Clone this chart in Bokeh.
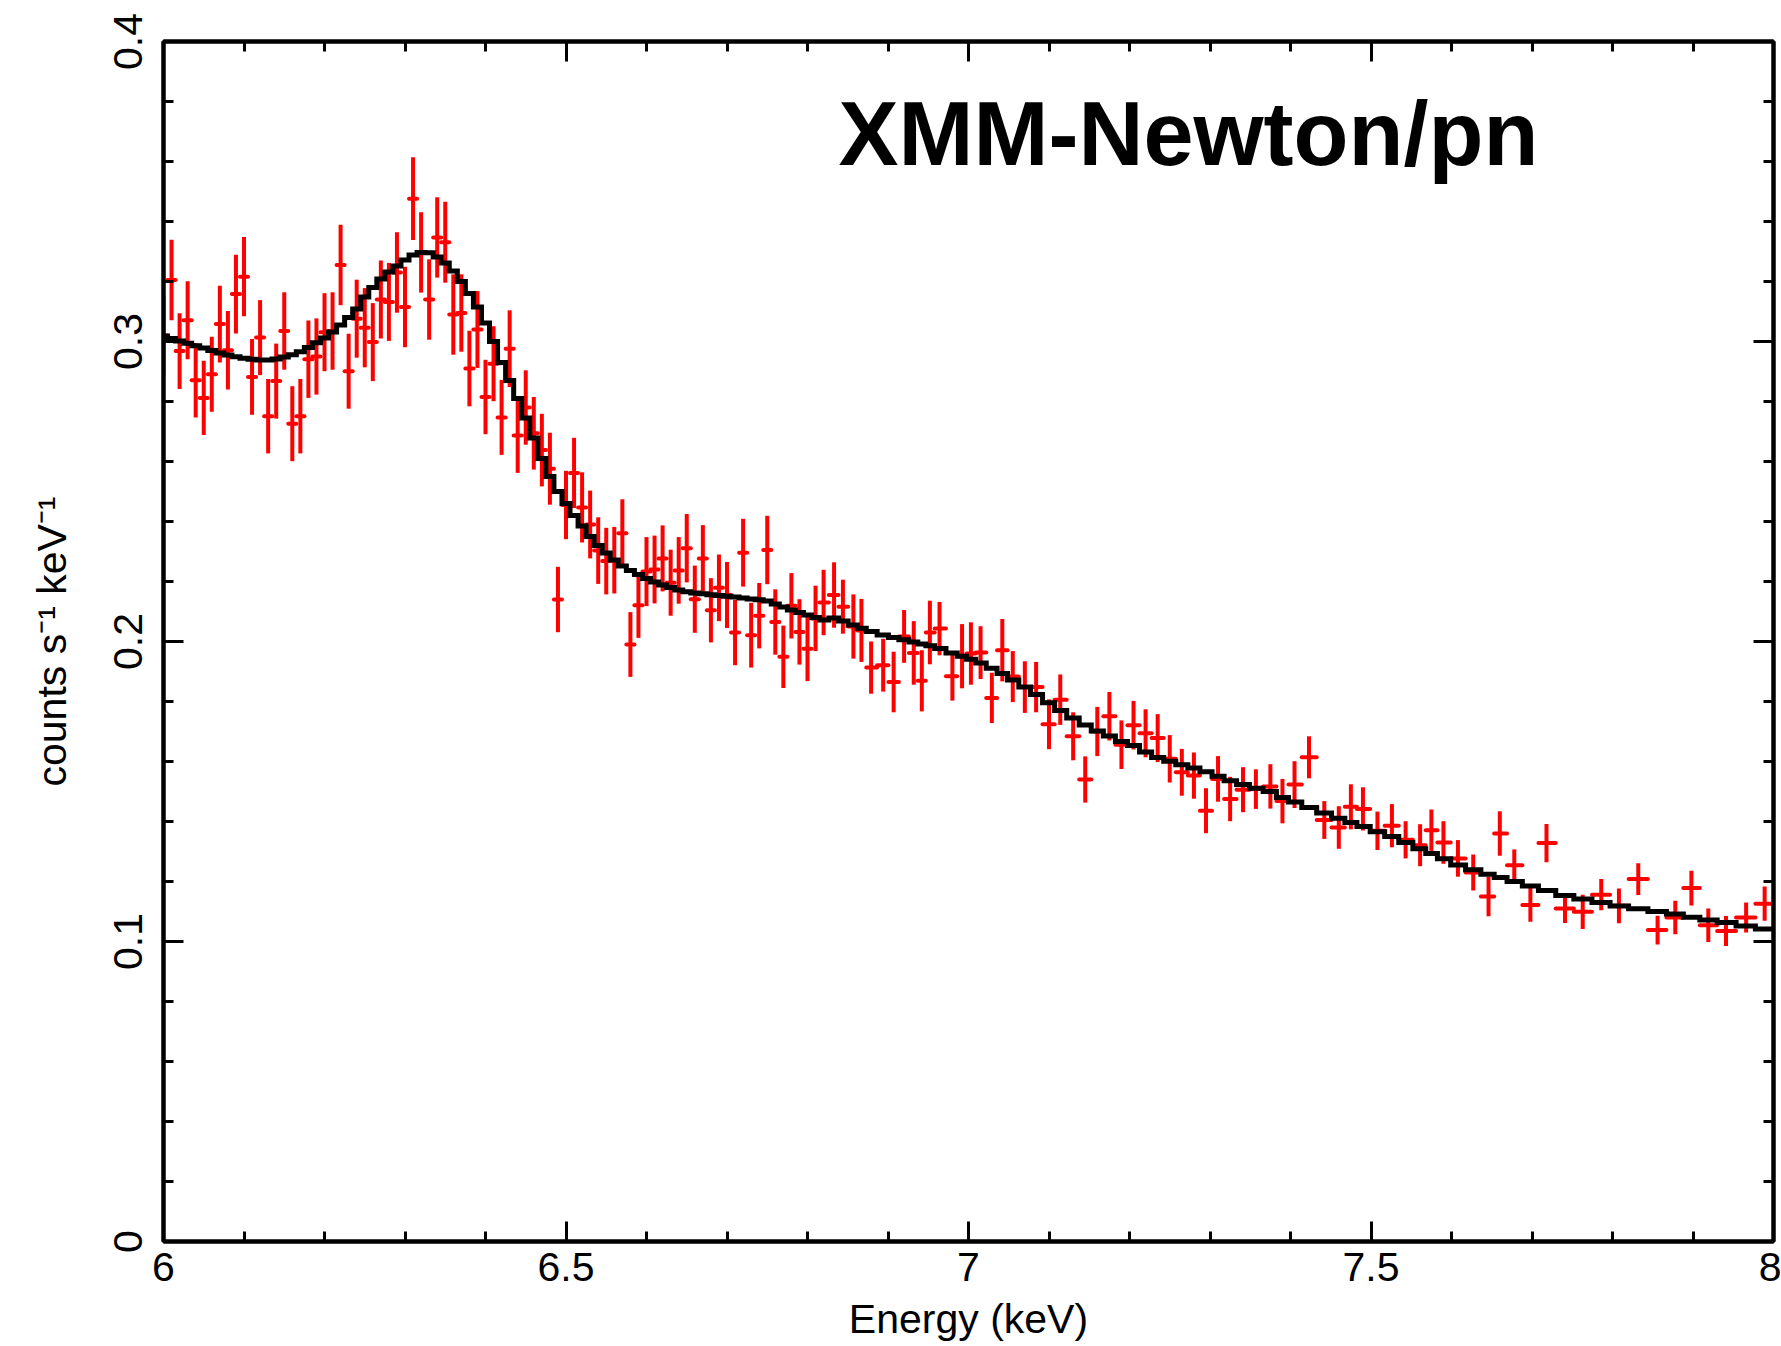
from bokeh.plotting import figure
from bokeh.models import (Range1d, LinearAxis, FixedTicker, NumeralTickFormatter,
                          Label, CustomLabelingPolicy)
from bokeh.embed import file_html
from bokeh.resources import INLINE

# ---------------- data ----------------
energy_keV = [
    6.00, 6.01, 6.02, 6.03, 6.04, 6.05, 6.06, 6.07, 6.08, 6.09,
    6.10, 6.11, 6.12, 6.13, 6.14, 6.15, 6.16, 6.17, 6.18, 6.19,
    6.20, 6.21, 6.22, 6.23, 6.24, 6.25, 6.26, 6.27, 6.28, 6.29,
    6.30, 6.31, 6.32, 6.33, 6.34, 6.35, 6.36, 6.37, 6.38, 6.39,
    6.40, 6.41, 6.42, 6.43, 6.44, 6.45, 6.46, 6.47, 6.48, 6.49,
    6.50, 6.51, 6.52, 6.53, 6.54, 6.55, 6.56, 6.57, 6.58, 6.59,
    6.60, 6.61, 6.62, 6.63, 6.64, 6.65, 6.66, 6.67, 6.68, 6.69,
    6.70, 6.71, 6.72, 6.73, 6.74, 6.75, 6.76, 6.77, 6.78, 6.79,
    6.80, 6.81, 6.82,
    6.833, 6.844, 6.857, 6.867, 6.879, 6.894, 6.907, 6.920, 6.932, 6.942,
    6.952, 6.964, 6.980, 6.992, 7.003, 7.015, 7.029, 7.042, 7.055, 7.070,
    7.084, 7.100, 7.114, 7.130, 7.145, 7.160, 7.175, 7.190, 7.205, 7.220,
    7.235, 7.250, 7.265, 7.280, 7.295, 7.310, 7.325, 7.341, 7.357, 7.375,
    7.390, 7.405, 7.423, 7.442, 7.460, 7.475, 7.490, 7.508, 7.526, 7.543,
    7.561, 7.575, 7.590, 7.608, 7.627, 7.646, 7.660, 7.678, 7.698, 7.718,
    7.741, 7.763, 7.786, 7.808, 7.832, 7.856, 7.878, 7.898, 7.919, 7.941,
    7.966, 7.989,
]

count_rate = [
    0.3020, 0.3205, 0.2968, 0.3071, 0.2871, 0.2812, 0.2891, 0.3058, 0.2971, 0.3158,
    0.3216, 0.2882, 0.3013, 0.2751, 0.2868, 0.3035, 0.2726, 0.2751, 0.2941, 0.2950,
    0.3031, 0.3035, 0.3255, 0.2901, 0.3076, 0.3046, 0.2998, 0.3140, 0.3132, 0.3230,
    0.3115, 0.3476, 0.3297, 0.3140, 0.3347, 0.3331, 0.3090, 0.3095, 0.2910, 0.3040,
    0.2815, 0.2926, 0.2747, 0.2976, 0.2687, 0.2780, 0.2694, 0.2638, 0.2576,
    0.2140, 0.2455, 0.2562, 0.2447, 0.2390, 0.2303, 0.2268, 0.2271, 0.2361, 0.1990,
    0.2121, 0.2233, 0.2240, 0.2277, 0.2196, 0.2237, 0.2311, 0.2141, 0.2277, 0.2104,
    0.2179, 0.2155, 0.2030, 0.2296, 0.2021, 0.2086, 0.2305, 0.2065, 0.1949, 0.2119,
    0.2032, 0.1976, 0.2077, 0.2130,
    0.2155, 0.2116, 0.2050, 0.2037, 0.1913, 0.1921, 0.1865, 0.2017, 0.1962, 0.1869,
    0.2030, 0.2043, 0.1884, 0.1951, 0.1960, 0.1963, 0.1812, 0.1971, 0.1883, 0.1848,
    0.1848, 0.1724, 0.1806, 0.1684, 0.1540, 0.1700, 0.1751, 0.1656, 0.1721, 0.1694,
    0.1678, 0.1609, 0.1564, 0.1553, 0.1436, 0.1542, 0.1475, 0.1506, 0.1508, 0.1517,
    0.1468, 0.1523, 0.1614, 0.1405, 0.1380, 0.1449, 0.1442, 0.1369, 0.1386, 0.1339,
    0.1321, 0.1371, 0.1330, 0.1277, 0.1230, 0.1150, 0.1360, 0.1254, 0.1122, 0.1328,
    0.1110, 0.1099, 0.1156, 0.1119, 0.1208, 0.1038, 0.1080, 0.1178, 0.1054, 0.1035,
    0.1080, 0.1126,
]

count_rate_err = [
    0.0131, 0.0134, 0.0126, 0.0130, 0.0124, 0.0124, 0.0125, 0.0128, 0.0131, 0.0131,
    0.0132, 0.0126, 0.0125, 0.0124, 0.0125, 0.0129, 0.0125, 0.0124, 0.0129, 0.0127,
    0.0130, 0.0129, 0.0134, 0.0125, 0.0130, 0.0132, 0.0130, 0.0130, 0.0130, 0.0134,
    0.0134, 0.0138, 0.0134, 0.0134, 0.0134, 0.0135, 0.0134, 0.0129, 0.0126, 0.0128,
    0.0124, 0.0125, 0.0125, 0.0128, 0.0125, 0.0124, 0.0121, 0.0121, 0.0120,
    0.0109, 0.0114, 0.0117, 0.0117, 0.0113, 0.0111, 0.0111, 0.0111, 0.0113, 0.0108,
    0.0109, 0.0115, 0.0113, 0.0110, 0.0110, 0.0111, 0.0114, 0.0112, 0.0111, 0.0107,
    0.0111, 0.0110, 0.0109, 0.0113, 0.0108, 0.0109, 0.0114, 0.0109, 0.0104, 0.0109,
    0.0109, 0.0108, 0.0109, 0.0109,
    0.0109, 0.0090, 0.0107, 0.0105, 0.0087, 0.0088, 0.0101, 0.0088, 0.0106, 0.0102,
    0.0106, 0.0089, 0.0081, 0.0107, 0.0104, 0.0088, 0.0084, 0.0104, 0.0085, 0.0086,
    0.0084, 0.0083, 0.0084, 0.0080, 0.0077, 0.0082, 0.0081, 0.0081, 0.0081, 0.0080,
    0.0080, 0.0079, 0.0078, 0.0077, 0.0075, 0.0076, 0.0074, 0.0075, 0.0066, 0.0074,
    0.0074, 0.0078, 0.0070, 0.0063, 0.0071, 0.0075, 0.0072, 0.0064, 0.0072, 0.0062,
    0.0070, 0.0069, 0.0071, 0.0061, 0.0060, 0.0066, 0.0074, 0.0053, 0.0056, 0.0064,
    0.0048, 0.0057, 0.0052, 0.0058, 0.0053, 0.0048, 0.0056, 0.0058, 0.0056, 0.0050,
    0.0050, 0.0057,
]

model_rate = [
    0.3018, 0.3010, 0.3002, 0.2994, 0.2986, 0.2978, 0.2970, 0.2962, 0.2955, 0.2949,
    0.2944, 0.2941, 0.2938, 0.2938, 0.2942, 0.2948, 0.2956, 0.2966, 0.2980, 0.2996,
    0.3012, 0.3032, 0.3055, 0.3080, 0.3108, 0.3148, 0.3180, 0.3208, 0.3232, 0.3252,
    0.3272, 0.3288, 0.3297, 0.3296, 0.3282, 0.3262, 0.3235, 0.3200, 0.3160, 0.3115,
    0.3062, 0.3000, 0.2930, 0.2870, 0.2810, 0.2745, 0.2678, 0.2610, 0.2550,
    0.2500, 0.2460, 0.2420, 0.2385, 0.2350, 0.2320, 0.2295, 0.2272, 0.2252, 0.2237,
    0.2223, 0.2210, 0.2198, 0.2188, 0.2180, 0.2172, 0.2166, 0.2162, 0.2159, 0.2156,
    0.2153, 0.2151, 0.2148, 0.2145, 0.2142, 0.2139, 0.2135, 0.2125, 0.2115, 0.2105,
    0.2097, 0.2088, 0.2080, 0.2072,
    0.2078, 0.2068, 0.2055, 0.2044, 0.2033, 0.2022, 0.2013, 0.2006, 0.1998, 0.1992,
    0.1986, 0.1977, 0.1962, 0.1951, 0.1941, 0.1928, 0.1911, 0.1893, 0.1872, 0.1848,
    0.1823, 0.1796, 0.1770, 0.1745, 0.1722, 0.1702, 0.1685, 0.1667, 0.1653, 0.1632,
    0.1613, 0.1601, 0.1589, 0.1578, 0.1566, 0.1551, 0.1536, 0.1523, 0.1511, 0.1500,
    0.1480, 0.1465, 0.1447, 0.1428, 0.1411, 0.1397, 0.1383, 0.1366, 0.1350, 0.1330,
    0.1309, 0.1293, 0.1276, 0.1255, 0.1239, 0.1224, 0.1213, 0.1200, 0.1185, 0.1170,
    0.1153, 0.1142, 0.1130, 0.1118, 0.1109, 0.1100, 0.1092, 0.1081, 0.1072, 0.1063,
    0.1052, 0.1042,
]

x_ticks = [6.0, 6.5, 7.0, 7.5, 8.0]
x_minor_ticks = [6.1, 6.2, 6.3, 6.4, 6.6, 6.7, 6.8, 6.9, 7.1, 7.2, 7.3, 7.4,
                 7.6, 7.7, 7.8, 7.9]
y_ticks = [0.0, 0.1, 0.2, 0.3, 0.4]
y_minor_ticks = [0.02, 0.04, 0.06, 0.08, 0.12, 0.14, 0.16, 0.18, 0.22, 0.24,
                 0.26, 0.28, 0.32, 0.34, 0.36, 0.38]

title_text = "XMM-Newton/pn"
x_label = "Energy (keV)"
y_label = "counts s\u207b\u00b9 keV\u207b\u00b9"

# ---------------- derived bin edges ----------------
n = len(energy_keV)
mids = [(energy_keV[i] + energy_keV[i + 1]) / 2 for i in range(n - 1)]
left_edges = [energy_keV[0] - (energy_keV[1] - energy_keV[0]) / 2] + mids
right_edges = mids + [energy_keV[-1] + (energy_keV[-1] - energy_keV[-2]) / 2]

lo = [v - e for v, e in zip(count_rate, count_rate_err)]
hi = [v + e for v, e in zip(count_rate, count_rate_err)]

step_x, step_y = [], []
for l, r, m in zip(left_edges, right_edges, model_rate):
    step_x += [l, r]
    step_y += [m, m]

# ---------------- figure ----------------
FONT = "Liberation Sans"
p = figure(width=1781, height=1346,
           x_range=Range1d(6, 8), y_range=Range1d(0, 0.4),
           x_axis_type=None, y_axis_type=None,
           output_backend="svg", toolbar_location=None)
p.min_border_left = 163
p.min_border_right = 8
p.min_border_top = 41
p.min_border_bottom = 105
p.background_fill_color = "white"
p.border_fill_color = "white"
p.outline_line_color = "black"
p.outline_line_width = 4

fmt = NumeralTickFormatter(format="0.[0]")
no_labels = CustomLabelingPolicy(code="""
    for (const i of indices)
        indices.unset(i)
    return indices
""")


def style_axis(ax, show_labels):
    ax.axis_line_width = 4
    ax.axis_line_color = "black"
    ax.major_tick_line_width = 3
    ax.minor_tick_line_width = 3
    ax.major_tick_in = 20
    ax.major_tick_out = 0
    ax.minor_tick_in = 10
    ax.minor_tick_out = 0
    ax.major_label_text_font = FONT
    ax.major_label_text_color = "black"
    ax.axis_label_text_font = FONT
    ax.axis_label_text_font_style = "normal"
    ax.axis_label_text_color = "black"
    ax.axis_label_text_font_size = "41px"
    if show_labels:
        ax.major_label_text_font_size = "41px"
    else:
        ax.major_label_policy = no_labels
        ax.major_label_text_font_size = "0px"
        ax.major_label_standoff = 0


xt = FixedTicker(ticks=x_ticks, minor_ticks=x_minor_ticks)
yt = FixedTicker(ticks=y_ticks, minor_ticks=y_minor_ticks)

xb = LinearAxis(ticker=xt, formatter=fmt, axis_label=x_label)
style_axis(xb, True)
xb.major_label_standoff = 11
xb.axis_label_standoff = 12
p.add_layout(xb, "below")

xa = LinearAxis(ticker=xt, formatter=fmt)
style_axis(xa, False)
p.add_layout(xa, "above")

yl = LinearAxis(ticker=yt, formatter=fmt, axis_label=y_label)
style_axis(yl, True)
yl.major_label_orientation = "vertical"
yl.major_label_standoff = 22
yl.axis_label_standoff = 36
p.add_layout(yl, "left")

yr = LinearAxis(ticker=yt, formatter=fmt)
style_axis(yr, False)
p.add_layout(yr, "right")

RED = "#ff0000"
p.segment(x0=energy_keV, y0=lo, x1=energy_keV, y1=hi,
          line_color=RED, line_width=4)
p.segment(x0=left_edges, y0=count_rate, x1=right_edges, y1=count_rate,
          line_color=RED, line_width=4, line_cap="round")

p.line(step_x, step_y, line_color="black", line_width=5, line_join="miter")

p.add_layout(Label(x=6.8385, y=0.3693, text=title_text,
                   text_font=FONT, text_font_style="bold",
                   text_font_size="90px", text_color="black",
                   text_baseline="alphabetic", text_align="left"))

open("out.html", "w").write(file_html(p, INLINE))
